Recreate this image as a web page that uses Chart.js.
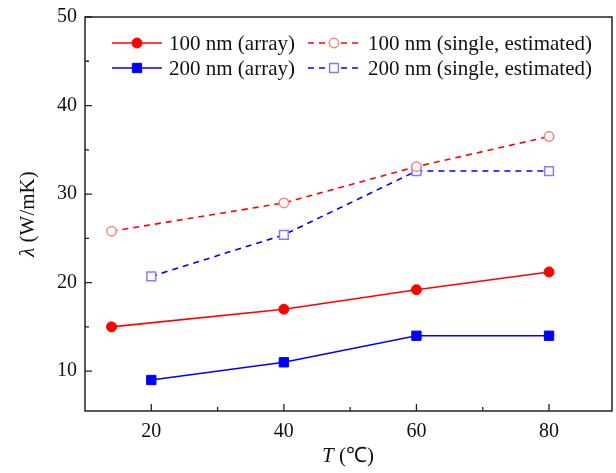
<!DOCTYPE html>
<html>
<head>
<meta charset="utf-8">
<script src="https://cdn.jsdelivr.net/npm/chart.js@4.4.1/dist/chart.umd.min.js"></script>
<style>
html, body { margin: 0; padding: 0; background: #fff; }
#wrap { width: 616px; height: 473px; }
</style>
</head>
<body>
<div id="wrap"><canvas id="lambdaChart" width="616" height="473"></canvas></div>
<script>
// values
const temps100 = [14, 40, 60, 80];
const temps200 = [20, 40, 60, 80];
const array100 = [15.0, 17.0, 19.2, 21.2];
const single100 = [25.8, 29.0, 33.1, 36.5];
const array200 = [9.0, 11.0, 14.0, 14.0];
const single200 = [20.7, 25.4, 32.6, 32.6];

const seriesNames = ['100 nm (array)', '100 nm (single, estimated)', '200 nm (array)', '200 nm (single, estimated)'];
const xMajor = [20, 40, 60, 80];
const xMinor = [30, 50, 70];
const yMajor = [10, 20, 30, 40, 50];
const yMinor = [15, 25, 35, 45];

const SERIF = '"Liberation Serif", "Times New Roman", serif';

function pairs(xs, ys) {
    return xs.map((x, i) => ({ x: x, y: ys[i] }));
}

function noPad(s) {
    s.paddingTop = 0;
    s.paddingBottom = 0;
    s.paddingLeft = 0;
    s.paddingRight = 0;
}

// frame, inward ticks, axis titles and the legend inside the plot
const framePlugin = {
    id: 'frame',
    afterDraw(chart) {
        const ctx = chart.ctx;
        const a = chart.chartArea;
        const xs = chart.scales.x;
        const ys = chart.scales.y;
        ctx.save();
        ctx.strokeStyle = '#222';
        ctx.lineWidth = 1.5;
        ctx.strokeRect(a.left, a.top, a.right - a.left, a.bottom - a.top);

        ctx.lineWidth = 1.3;
        ctx.beginPath();
        xMajor.forEach(v => { const p = xs.getPixelForValue(v); ctx.moveTo(p, a.bottom); ctx.lineTo(p, a.bottom - 7); });
        xMinor.forEach(v => { const p = xs.getPixelForValue(v); ctx.moveTo(p, a.bottom); ctx.lineTo(p, a.bottom - 4); });
        yMajor.forEach(v => { const p = ys.getPixelForValue(v); ctx.moveTo(a.left, p); ctx.lineTo(a.left + 7, p); });
        yMinor.forEach(v => { const p = ys.getPixelForValue(v); ctx.moveTo(a.left, p); ctx.lineTo(a.left + 4, p); });
        ctx.stroke();

        // axis titles (italic symbol + upright unit)
        ctx.fillStyle = '#111';
        ctx.textBaseline = 'middle';
        ctx.textAlign = 'left';
        const it = 'italic 21px ' + SERIF;
        const up = '21px ' + SERIF;

        ctx.font = it; const wT = ctx.measureText('T').width;
        ctx.font = up; const wU = ctx.measureText(' (\u2103)').width;
        let x0 = 348 - (wT + wU) / 2;
        ctx.font = it; ctx.fillText('T', x0, 456);
        ctx.font = up; ctx.fillText(' (\u2103)', x0 + wT, 456);

        ctx.save();
        ctx.translate(28, (a.top + a.bottom) / 2);
        ctx.rotate(-Math.PI / 2);
        ctx.font = it; const wL = ctx.measureText('\u03bb').width;
        ctx.font = up; const wR = ctx.measureText(' (W/mK)').width;
        x0 = -(wL + wR) / 2;
        ctx.font = it; ctx.fillText('\u03bb', x0, 0);
        ctx.font = up; ctx.fillText(' (W/mK)', x0 + wL, 0);
        ctx.restore();

        // legend, two columns by two rows
        const cols = [{ l: 112, r: 162, t: 169 }, { l: 308, r: 360, t: 368 }];
        const rows = [43, 68];
        chart.data.datasets.forEach((ds, i) => {
            const c = cols[i % 2];
            const y = rows[Math.floor(i / 2)];
            ctx.save();
            ctx.strokeStyle = ds.borderColor;
            ctx.lineWidth = ds.borderWidth;
            ctx.setLineDash(ds.borderDash || []);
            ctx.beginPath();
            ctx.moveTo(c.l, y);
            ctx.lineTo(c.r, y);
            ctx.stroke();
            ctx.setLineDash([]);
            ctx.fillStyle = ds.pointBackgroundColor;
            ctx.strokeStyle = ds.pointBorderColor;
            ctx.lineWidth = ds.pointBorderWidth;
            Chart.helpers.drawPoint(ctx, { pointStyle: ds.pointStyle, radius: ds.pointRadius, borderWidth: ds.pointBorderWidth, rotation: 0 }, (c.l + c.r) / 2, y);
            ctx.restore();
            ctx.fillStyle = '#111';
            ctx.font = up;
            ctx.fillText(ds.label, c.t, y + 1);
        });
        ctx.restore();
    }
};

const ctx = document.getElementById('lambdaChart').getContext('2d');

const lambdaChart = new Chart(ctx, {
    type: 'line',
    data: {
        datasets: [{
            label: seriesNames[0],
            data: pairs(temps100, array100),
            borderColor: '#ff0000',
            borderWidth: 1.6,
            pointStyle: 'circle',
            pointRadius: 5,
            pointBackgroundColor: '#ff0000',
            pointBorderColor: '#ff0000',
            pointBorderWidth: 1
        }, {
            label: seriesNames[1],
            data: pairs(temps100, single100),
            borderColor: '#ff0000',
            borderWidth: 1.6,
            borderDash: [6, 5],
            pointStyle: 'circle',
            pointRadius: 4.7,
            pointBackgroundColor: '#ffffff',
            pointBorderColor: '#ff8080',
            pointBorderWidth: 1.5
        }, {
            label: seriesNames[2],
            data: pairs(temps200, array200),
            borderColor: '#0000ff',
            borderWidth: 1.6,
            pointStyle: 'rect',
            pointRadius: 6.6,
            pointBackgroundColor: '#0000ff',
            pointBorderColor: '#0000ff',
            pointBorderWidth: 1
        }, {
            label: seriesNames[3],
            data: pairs(temps200, single200),
            borderColor: '#0000ff',
            borderWidth: 1.6,
            borderDash: [6, 5],
            pointStyle: 'rect',
            pointRadius: 6.2,
            pointBackgroundColor: '#ffffff',
            pointBorderColor: '#8080ff',
            pointBorderWidth: 1.5
        }]
    },
    options: {
        responsive: false,
        animation: false,
        layout: { autoPadding: false, padding: { top: 17, right: 4, left: 0, bottom: 0 } },
        plugins: {
            legend: { display: false },
            tooltip: { enabled: false }
        },
        scales: {
            x: {
                type: 'linear',
                min: 10,
                max: 89.5,
                afterBuildTicks: s => { s.ticks = xMajor.map(v => ({ value: v })); },
                afterFit: s => { s.height = 62; noPad(s); },
                grid: { display: false, drawTicks: false },
                border: { display: false },
                ticks: { padding: 9, color: '#111', font: { family: SERIF, size: 20 } }
            },
            y: {
                min: 5.5,
                max: 50,
                afterBuildTicks: s => { s.ticks = yMajor.map(v => ({ value: v })); },
                afterFit: s => { s.width = 85; noPad(s); },
                grid: { display: false, drawTicks: false },
                border: { display: false },
                ticks: { padding: 8, color: '#111', font: { family: SERIF, size: 20 } }
            }
        }
    },
    plugins: [framePlugin]
});
</script>
</body>
</html>
